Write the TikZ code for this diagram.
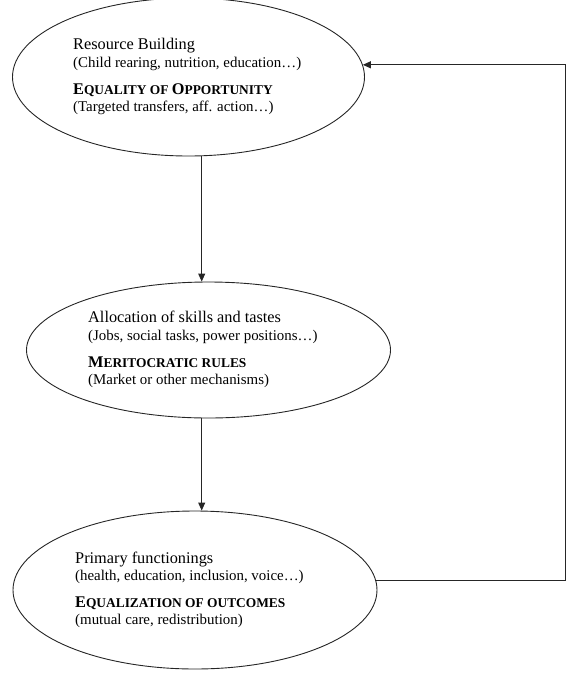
\documentclass[tikz,border=0pt]{standalone}
\usepackage{fontspec}
\setmainfont{Liberation Serif}
\usetikzlibrary{shapes.geometric,arrows.meta}
\newcommand{\bigtxt}{\fontsize{16.3}{18}\selectfont}
\newcommand{\smtxt}{\fontsize{14.9}{17}\selectfont}
\newcommand{\scw}[2]{{\bfseries\fontsize{16.3}{18}\selectfont #1\fontsize{13.4}{15}\selectfont #2}}
\tikzset{
  ell/.style={draw=black!85, line width=0.9pt, ellipse, inner sep=0pt},
  conn/.style={draw=black!85, line width=0.9pt, -{Triangle[length=8pt,width=7pt]}},
  txt/.style={anchor=base west, inner sep=0pt, text=black}
}
\begin{document}
\begin{tikzpicture}[x=1pt,y=-1pt]
\useasboundingbox (0,0) rectangle (571,689);
% ellipses
\node[ell, minimum width=352, minimum height=158] (e1) at (188.5,77) {};
\node[ell, minimum width=364, minimum height=136] (e2) at (208.5,350) {};
\node[ell, minimum width=364, minimum height=158] (e3) at (195,590) {};
% texts
\node[txt] (a1) at (73,49) {\bigtxt Resource Building};
\node[txt] (a2) at (73,67) {\smtxt (Child rearing, nutrition, education…)};
\node[txt] (a3) at (73,94) {\scw{E}{QUALITY OF }\scw{O}{PPORTUNITY}};
\node[txt] (a4) at (73,111) {\smtxt (Targeted transfers, aff. action…)};
\node[txt] (b1) at (88,322) {\bigtxt Allocation of skills and tastes};
\node[txt] (b2) at (88,340) {\smtxt (Jobs, social tasks, power positions…)};
\node[txt] (b3) at (88,367) {\scw{M}{ERITOCRATIC RULES}};
\node[txt] (b4) at (88,384) {\smtxt (Market or other mechanisms)};
\node[txt] (c1) at (75,563) {\bigtxt Primary functionings};
\node[txt] (c2) at (75,580) {\smtxt (health, education, inclusion, voice…)};
\node[txt] (c3) at (75,607) {\scw{E}{QUALIZATION OF OUTCOMES}};
\node[txt] (c4) at (75,624) {\smtxt (mutual care, redistribution)};
% connectors
\coordinate (ax) at (201.7,0);
\coordinate (fb) at (565,0);
\coordinate (p3) at (e3.3.5);
\coordinate (p1) at (e1.4);
\draw[conn] (ax |- e1.south) -- (ax |- e2.north);
\draw[conn] (ax |- e2.south) -- (ax |- e3.north);
\draw[conn] (p3) -| (fb |- p1) -- (p1);
\end{tikzpicture}
\end{document}
